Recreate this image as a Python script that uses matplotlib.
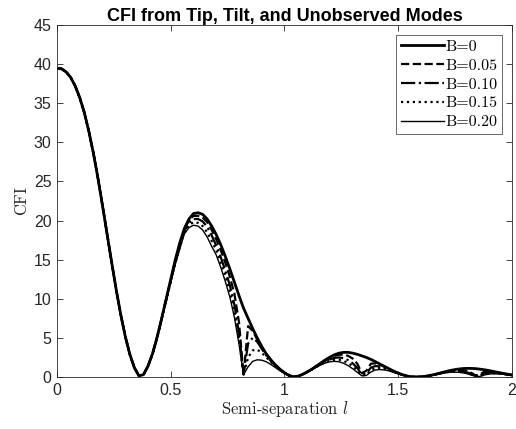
import numpy as np
import matplotlib
matplotlib.use("Agg")
import matplotlib.pyplot as plt

# sampling grid of semi-separation l
l = np.linspace(0, 2, 101)

lobe1 = [39.5, 39.4, 39.0, 38.3, 37.2, 35.7, 33.8, 31.4, 28.6, 25.4,
         21.9, 18.3, 14.7, 11.2, 8.0, 5.2, 2.9, 1.2, 0.15, 0.3]

cfi_b000 = lobe1 + [
    1.4, 3.0, 5.1, 7.5, 10.0, 12.5, 15.0, 17.2, 19.0, 20.2, 20.9, 21.0, 20.8,
    20.2, 19.3, 18.2, 16.9, 15.4, 13.8, 12.1, 10.4, 8.8, 7.5, 6.2, 5.0, 3.9,
    2.95, 2.2, 1.55, 1.0, 0.55, 0.2, 0.02,
    0.1, 0.35, 0.65, 1.0, 1.4, 1.8, 2.2, 2.55, 2.85, 3.05, 3.15, 3.15, 3.05,
    2.9, 2.7, 2.5, 2.25, 1.95, 1.65, 1.35, 1.05, 0.75, 0.5, 0.28, 0.12, 0.03, 0.0,
    0.03, 0.1, 0.2, 0.33, 0.48, 0.63, 0.78, 0.9, 1.0, 1.07, 1.1, 1.1, 1.07,
    1.0, 0.92, 0.82, 0.7, 0.58, 0.47, 0.36, 0.26]

cfi_b005 = lobe1 + [
    1.4, 3.0, 5.1, 7.5, 10.0, 12.4, 14.9, 17.0, 18.9, 20.0, 20.6, 20.6, 20.4,
    19.8, 18.8, 17.6, 16.2, 14.6, 12.8, 10.6, 7.0, 0.3, 6.5, 5.9, 4.8, 3.8,
    2.9, 2.15, 1.5, 1.0, 0.55, 0.2, 0.02,
    0.1, 0.35, 0.65, 1.0, 1.38, 1.75, 2.12, 2.45, 2.7, 2.85, 2.85, 2.7, 2.35,
    1.7, 0.5, 0.8, 1.7, 1.75, 1.55, 1.3, 1.0, 0.72, 0.48, 0.27, 0.11, 0.03, 0.0,
    0.03, 0.1, 0.2, 0.32, 0.46, 0.6, 0.73, 0.83, 0.88, 0.87, 0.78, 0.55, 0.2,
    0.35, 0.7, 0.72, 0.65, 0.55, 0.45, 0.35, 0.25]

cfi_b010 = lobe1 + [
    1.4, 3.0, 5.0, 7.4, 9.9, 12.3, 14.7, 16.8, 18.7, 19.7, 20.2, 20.2, 19.9,
    19.2, 18.1, 16.8, 15.3, 13.6, 11.7, 9.2, 5.6, 0.3, 4.3, 5.0, 4.5, 3.6,
    2.75, 2.05, 1.45, 0.95, 0.52, 0.18, 0.02,
    0.1, 0.34, 0.63, 0.97, 1.33, 1.68, 2.0, 2.25, 2.45, 2.5, 2.4, 2.15, 1.75,
    1.15, 0.3, 0.5, 1.2, 1.4, 1.35, 1.17, 0.93, 0.68, 0.46, 0.26, 0.11, 0.03, 0.0,
    0.03, 0.1, 0.19, 0.31, 0.44, 0.57, 0.68, 0.75, 0.77, 0.73, 0.62, 0.42, 0.12,
    0.2, 0.48, 0.58, 0.56, 0.5, 0.42, 0.33, 0.24]

cfi_b015 = lobe1 + [
    1.4, 2.95, 5.0, 7.4, 9.8, 12.2, 14.6, 16.6, 18.5, 19.4, 19.8, 19.7, 19.3,
    18.5, 17.4, 16.2, 14.6, 12.9, 10.9, 8.3, 4.8, 0.3, 2.5, 3.4, 3.5, 3.1,
    2.5, 1.95, 1.4, 0.9, 0.5, 0.17, 0.02,
    0.1, 0.33, 0.62, 0.95, 1.29, 1.6, 1.9, 2.1, 2.2, 2.2, 2.05, 1.78, 1.38,
    0.85, 0.2, 0.3, 0.9, 1.12, 1.13, 1.03, 0.85, 0.64, 0.44, 0.25, 0.1, 0.03, 0.0,
    0.03, 0.09, 0.18, 0.3, 0.42, 0.54, 0.63, 0.68, 0.68, 0.63, 0.52, 0.34, 0.08,
    0.12, 0.35, 0.46, 0.48, 0.44, 0.38, 0.31, 0.23]

cfi_b020 = lobe1 + [
    1.35, 2.9, 4.95, 7.3, 9.7, 12.1, 14.4, 16.4, 18.3, 19.1, 19.4, 19.3, 18.8,
    17.9, 16.7, 15.6, 14.0, 12.2, 10.2, 7.6, 4.2, 0.3, 1.3, 2.0, 2.2, 2.15,
    1.95, 1.6, 1.2, 0.8, 0.45, 0.16, 0.02,
    0.1, 0.32, 0.6, 0.92, 1.25, 1.55, 1.8, 1.95, 2.0, 1.95, 1.75, 1.45, 1.05,
    0.6, 0.15, 0.2, 0.65, 0.9, 0.95, 0.9, 0.78, 0.6, 0.42, 0.25, 0.1, 0.03, 0.0,
    0.03, 0.09, 0.18, 0.29, 0.4, 0.51, 0.59, 0.62, 0.61, 0.55, 0.44, 0.27, 0.06,
    0.08, 0.27, 0.38, 0.41, 0.39, 0.35, 0.29, 0.22]

labels = ["B=0", "B=0.05", "B=0.10", "B=0.15", "B=0.20"]
series = [cfi_b000, cfi_b005, cfi_b010, cfi_b015, cfi_b020]
styles = [("-", 2.0), ("--", 1.6), ("-.", 1.6), (":", 1.6), ("-", 1.0)]

xticks = [0, 0.5, 1, 1.5, 2]
xticklabels = ["0", "0.5", "1", "1.5", "2"]
yticks = [0, 5, 10, 15, 20, 25, 30, 35, 40, 45]

plt.rcParams["mathtext.fontset"] = "cm"
plt.rcParams["font.family"] = ["Liberation Sans", "DejaVu Sans"]

fig = plt.figure(figsize=(5.16, 4.29), dpi=100)
ax = fig.add_axes([0.1105, 0.1212, 0.8817, 0.8205])

for y, lab, (ls, lw) in zip(series, labels, styles):
    ax.plot(l, y, color="black", linestyle=ls, linewidth=lw, label=lab)

ax.set_xlim(0, 2)
ax.set_ylim(0, 45)
ax.set_xticks(xticks)
ax.set_xticklabels(xticklabels)
ax.set_yticks(yticks)
ax.tick_params(direction="in", top=True, right=True, length=4, width=0.6,
               labelsize=11.5, colors="#262626", pad=4)
for s in ax.spines.values():
    s.set_linewidth(0.6)
    s.set_color("#262626")

ax.set_xlabel(r"Semi-separation $l$", family="cmr10", fontsize=12, color="#262626", labelpad=1)
ax.set_ylabel("CFI", family="cmr10", fontsize=12, color="#262626", labelpad=3)
ax.set_title("CFI from Tip, Tilt, and Unobserved Modes", fontsize=13, fontweight="bold", pad=3)

leg = ax.legend(loc="upper right", prop={"family": "cmr10", "size": 11.5},
                frameon=True, fancybox=False, edgecolor="#262626",
                handlelength=2.7, handletextpad=0.1, borderpad=0.3,
                labelspacing=0.3, borderaxespad=0.6)
leg.get_frame().set_linewidth(0.6)

fig.savefig("out.png", dpi=100)
